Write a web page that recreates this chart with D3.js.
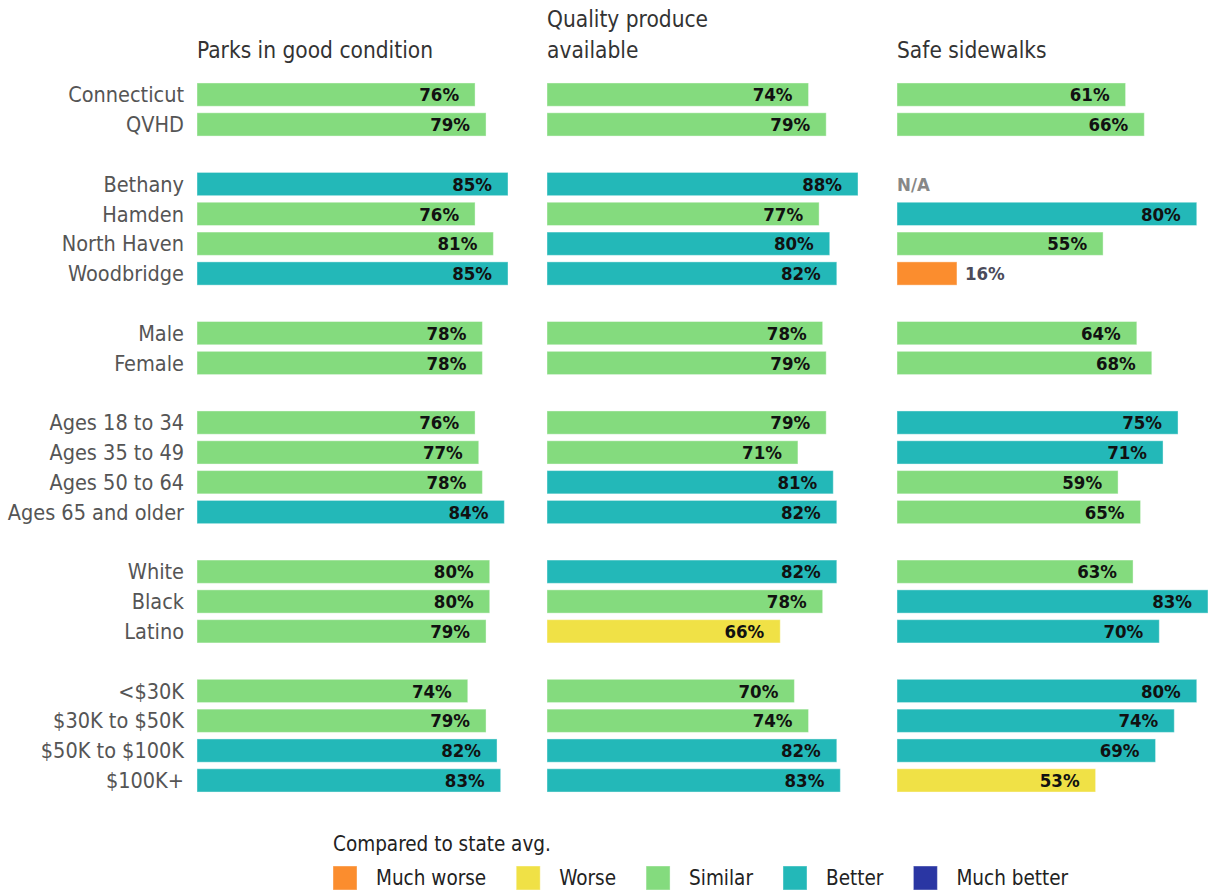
<!DOCTYPE html>
<html>
<head>
<meta charset="utf-8">
<script src="https://cdn.jsdelivr.net/npm/d3@7"></script>
<style>
  body { margin: 0; background: #fff; }
  text { font-family: "DejaVu Sans Condensed", "DejaVu Sans", sans-serif; }
</style>
</head>
<body>
<script>
const chart_width = 1209;
const chart_height = 893;

// row labels, with null marking the blank spacer between groups
const rowLabels = ["Connecticut", "QVHD", null,
  "Bethany", "Hamden", "North Haven", "Woodbridge", null,
  "Male", "Female", null,
  "Ages 18 to 34", "Ages 35 to 49", "Ages 50 to 64", "Ages 65 and older", null,
  "White", "Black", "Latino", null,
  "<$30K", "$30K to $50K", "$50K to $100K", "$100K+"];

const panelTitles = [["Parks in good condition"], ["Quality produce", "available"], ["Safe sidewalks"]];

const parksValues = [76, 79, 85, 76, 81, 85, 78, 78, 76, 77, 78, 84, 80, 80, 79, 74, 79, 82, 83];
const parksRatings = ["S", "S", "B", "S", "S", "B", "S", "S", "S", "S", "S", "B", "S", "S", "S", "S", "S", "B", "B"];

const produceValues = [74, 79, 88, 77, 80, 82, 78, 79, 79, 71, 81, 82, 82, 78, 66, 70, 74, 82, 83];
const produceRatings = ["S", "S", "B", "S", "B", "B", "S", "S", "S", "S", "B", "B", "B", "S", "W", "S", "S", "B", "B"];

const sidewalkValues = [61, 66, null, 80, 55, 16, 64, 68, 75, 71, 59, 65, 63, 83, 70, 80, 74, 69, 53];
const sidewalkRatings = ["S", "S", null, "B", "S", "MW", "S", "S", "B", "B", "S", "S", "S", "B", "B", "B", "B", "B", "W"];

const legendKeys = ["MW", "W", "S", "B", "MB"];
const legendNames = ["Much worse", "Worse", "Similar", "Better", "Much better"];
const legendColors = ["#fb8d2e", "#f0e146", "#84db7e", "#23b8b8", "#2a36a3"];

const color = d3.scaleOrdinal().domain(legendKeys).range(legendColors);

const svg = d3.select("body").append("svg")
  .attr("width", chart_width).attr("height", chart_height);

const y = d3.scaleBand()
  .domain(d3.range(rowLabels.length))
  .range([80, 795])
  .paddingInner(0.22).paddingOuter(0.1);

// labels that actually carry data, mapped to their slot
const dataRows = rowLabels.map((d, i) => ({ label: d, slot: i })).filter(d => d.label !== null);

svg.append("g").selectAll("text")
  .data(dataRows).enter().append("text")
  .attr("x", 184)
  .attr("y", d => y(d.slot) + y.bandwidth() / 2)
  .attr("dy", "0.36em")
  .attr("text-anchor", "end")
  .attr("font-size", 21.5)
  .attr("fill", "#555")
  .text(d => d.label);

const panels = [
  { x0: 197, values: parksValues, ratings: parksRatings },
  { x0: 547, values: produceValues, ratings: produceRatings },
  { x0: 897, values: sidewalkValues, ratings: sidewalkRatings }
];

panels.forEach((p, pi) => {
  const x = d3.scaleLinear().domain([0, d3.max(p.values)]).range([0, 311]);
  const g = svg.append("g").attr("transform", `translate(${p.x0},0)`);

  g.append("text")
    .attr("x", 0).attr("y", panelTitles[pi].length > 1 ? 27 : 58)
    .attr("font-size", 22.5).attr("fill", "#333")
    .selectAll("tspan").data(panelTitles[pi]).enter().append("tspan")
    .attr("x", 0).attr("dy", (d, i) => i ? 31 : 0)
    .text(d => d);

  const rows = dataRows.map((r, i) => ({ slot: r.slot, v: p.values[i], r: p.ratings[i] }));

  g.selectAll("rect").data(rows.filter(d => d.v !== null)).enter().append("rect")
    .attr("x", 0)
    .attr("y", d => y(d.slot))
    .attr("width", d => x(d.v))
    .attr("height", y.bandwidth())
    .attr("fill", d => color(d.r))
    .attr("stroke", "#fff").attr("stroke-opacity", 0.4).attr("stroke-width", 1);

  g.selectAll("text.val").data(rows).enter().append("text")
    .attr("class", "val")
    .attr("x", d => d.v === null ? 0 : (x(d.v) < 70 ? x(d.v) + 8 : x(d.v) - 16))
    .attr("y", d => y(d.slot) + y.bandwidth() / 2)
    .attr("dy", "0.36em")
    .attr("text-anchor", d => d.v === null || x(d.v) < 70 ? "start" : "end")
    .attr("font-size", 18.5).attr("font-weight", "bold")
    .attr("fill", d => d.v === null ? "#888" : (x(d.v) < 70 ? "#4b4b5a" : "#111"))
    .text(d => d.v === null ? "N/A" : d.v + "%");
});

// legend: swatch + name, each item placed after the previous one's text
const legend = svg.append("g").attr("transform", "translate(333,0)");
legend.append("text").attr("x", 0).attr("y", 851)
  .attr("font-size", 20.5).attr("fill", "#222").text("Compared to state avg.");

let cursor = 0;
legendKeys.forEach((k, i) => {
  const item = legend.append("g").attr("transform", `translate(${cursor},866)`);
  item.append("rect").attr("width", 24).attr("height", 24).attr("fill", color(k))
    .attr("stroke", "#fff").attr("stroke-opacity", 0.4);
  const t = item.append("text").attr("x", 43).attr("y", 12).attr("dy", "0.36em")
    .attr("font-size", 20.5).attr("fill", "#222")
    .text(legendNames[i]);
  cursor += 43 + t.node().getComputedTextLength() + 30;
});
</script>
</body>
</html>
